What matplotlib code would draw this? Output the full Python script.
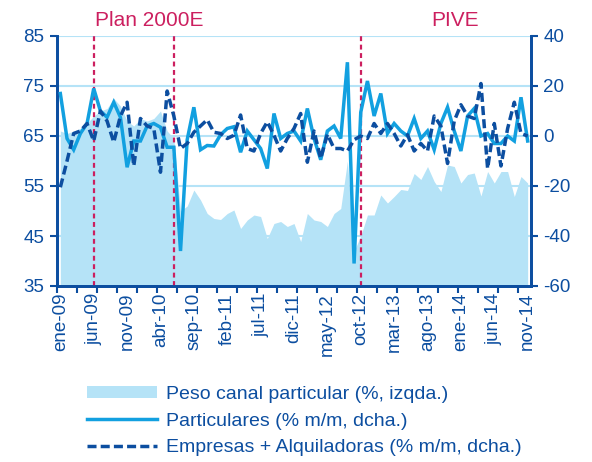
import numpy as np
import matplotlib.pyplot as plt
from matplotlib.patches import Patch
from matplotlib.lines import Line2D
from matplotlib.transforms import blended_transform_factory

plt.rcParams['font.family'] = ['Liberation Sans', 'DejaVu Sans']
plt.rcParams['axes.unicode_minus'] = False

# Data: monthly, ene-09 .. nov-14 ##################################
peso_particular = [66, 65.5, 66, 66.5, 67.5, 69, 70, 70.5, 72.5, 71, 68, 67,
                   68.5, 68, 68.5, 70, 66, 64.5, 50, 51, 54.2, 52.2, 49.5, 48.5,
                   48.3, 49.5, 50.2, 46.5, 48.2, 49.2, 48.9, 44.5, 47.5, 47.9, 46.9, 47.5,
                   43.9, 49.5, 48.2, 47.9, 46.9, 49.5, 50.5, 60, 42, 45, 49.2, 49.2,
                   53.2, 51.6, 52.9, 54.3, 54.1, 57.5, 56.3, 58.9, 55.9, 53.9, 59.2, 58.9,
                   55.6, 57.3, 57.6, 53.0, 57.9, 55.6, 57.9, 57.9, 52.9, 56.9, 55.6]

particulares = [17, -1, -5.5, 1, 5, 19, 10, 7.5, 13.5, 7.5, -12.5, -2,
                -2, 4, 5, 3.5, -4.5, -4.5, -46, -1.5, 11.5, -5.5, -3.8, -4,
                0.5, 3, 3.7, -6.5, 2, -1.5, -5, -13, 9, -1, 1, 2,
                -2, 11, -1, -9.5, 2, 4, -1, 29.5, -51, 9.5, 22, 8,
                17, 1, 5, 2, 0, 7, -1, 2, -5.5, 5, 11.5, 2,
                -6, 8, 11, 0, 1, -3, -3, 0, -2, 15.5, -2]

empresas = [-20.5, -10, 1, 2, 5, -2, 10, 6, -2.5, 8, 13.5, -12,
            7, 4, 3, -14.5, 18, 8, -5, -3, 1.5, 4, 6.5, 1.5,
            1, -1, 0.3, 8.4, -5, -6, 1, 5.7, 0.3, -6, -1, 3,
            9, -10.5, 2, -9, 0.7, -5, -5, -6, -1.5, 0, -1, 5,
            1, 5, 1, -4, 0.5, -6, -3, -6, 8, 4, -11, 6,
            12.5, 8, 7, 21, -13, 5, -12, 3, 13.5, 1, 0]

tick_labels = ['ene-09', 'jun-09', 'nov-09', 'abr-10', 'sep-10', 'feb-11', 'jul-11',
               'dic-11', 'may-12', 'oct-12', 'mar-13', 'ago-13', 'ene-14', 'jun-14', 'nov-14']

# month index of the programme markers (jun-09, jun-10, oct-12)
plan_lines = [5, 17, 45]

# Colours ##########################################################
c_area = '#b5e3f7'
c_part = '#12a0e0'
c_emp = '#0c4ea0'
c_axis = '#0c4ea0'
c_grid = '#b5e3f7'
c_plan = '#cc1f5f'

n = len(peso_particular)
x = np.arange(n)

fig = plt.figure(figsize=(5.92, 4.62), dpi=100)
ax = fig.add_axes([57/592, 1 - 286/462, (531 - 57)/592, 250/462])
ax2 = ax.twinx()

# area on the left axis
ax.fill_between(x, 35, peso_particular, color=c_area, lw=0, zorder=1)
ax.set_ylim(35, 85)
ax.set_yticks([35, 45, 55, 65, 75, 85])
ax.set_xlim(-0.5, n - 0.5)
ax.grid(axis='y', color=c_grid, lw=1.5, zorder=0)
ax.set_axisbelow(True)

# lines on the right axis
for xv in plan_lines:
    ax2.axvline(xv, color=c_plan, lw=1.6, dashes=(2.2, 1.6), zorder=2)
ax2.plot(x, particulares, color=c_part, lw=2.5, zorder=3, solid_joinstyle='miter')
ax2.plot(x, empresas, color=c_emp, lw=2.5, dashes=(2.6, 1.2), zorder=4)
ax2.set_ylim(-60, 40)
ax2.set_yticks([-60, -40, -20, 0, 20, 40])
ax2.set_xlim(-0.5, n - 0.5)

# x axis: tick marks every 3 months, labels every 5 months
ax.set_xticks(np.arange(-0.5, n - 0.5, 3), minor=True)
ax.set_xticks(np.arange(0, n, 5))
ax.set_xticklabels(tick_labels, rotation=90)
ax.tick_params(axis='x', which='major', length=0, pad=5)
ax.tick_params(axis='x', which='minor', length=5, width=1.5, color=c_axis, direction='out')

for a in (ax, ax2):
    for side in ('left', 'right', 'bottom'):
        a.spines[side].set_color(c_axis)
        a.spines[side].set_linewidth(2)
    a.spines['top'].set_visible(False)
    a.tick_params(axis='y', colors=c_axis, labelsize=13.5, length=5, width=1.5, pad=4)
    a.tick_params(axis='x', colors=c_axis, labelsize=13.5)
ax.tick_params(axis='x', which='minor', colors=c_axis)

# programme labels
tr = blended_transform_factory(ax.transData, ax.transAxes)
ax.text(5.2, 1.064, 'Plan 2000E', color=c_plan, fontsize=15, ha='left', va='center', transform=tr)
ax.text(59.1, 1.064, 'PIVE', color=c_plan, fontsize=15, ha='center', va='center', transform=tr)

# legend
handles = [Patch(facecolor=c_area, edgecolor='none'),
           Line2D([], [], color=c_part, lw=2.5),
           Line2D([], [], color=c_emp, lw=2.5, dashes=(2.6, 1.2))]
labels = ['Peso canal particular (%, izqda.)',
          'Particulares (% m/m, dcha.)',
          'Empresas + Alquiladoras (% m/m, dcha.)']
leg = fig.legend(handles, labels, loc='upper left', bbox_to_anchor=(87/592, 1 - 386/462),
                 frameon=False, fontsize=14, handlelength=3.6, handleheight=0.55,
                 handletextpad=0.45, labelspacing=0.5, borderpad=0, borderaxespad=0)
for t in leg.get_texts():
    t.set_color(c_axis)

fig.savefig('out.png', dpi=100)
